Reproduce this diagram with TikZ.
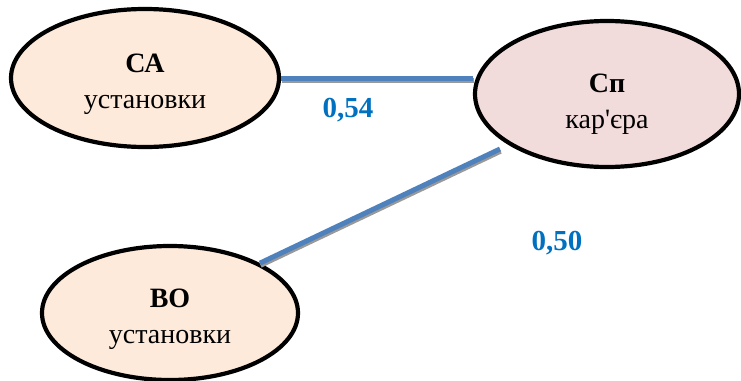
\documentclass[tikz,border=0pt]{standalone}
\usepackage{fontspec}
\setmainfont{Liberation Serif}
\newfontfamily\plainserif{Liberation Serif}
\usetikzlibrary{shapes.geometric, positioning}
\definecolor{peach}{HTML}{FDEADA}
\definecolor{rose}{HTML}{F2DCDB}
\definecolor{linkblue}{HTML}{4F81BD}
\definecolor{valblue}{HTML}{0070C0}

\begin{document}
\begin{tikzpicture}[x=1pt, y=-1pt,
    factor/.style={ellipse, draw, line width=4.2pt, fill=peach, align=center,
        minimum width=268pt, minimum height=138pt, inner sep=0pt,
        font=\fontsize{28}{36}\selectfont},
    link/.style={linkblue, line width=5pt,
        preaction={draw=gray!80, line width=5pt, transform canvas={xshift=0.6pt, yshift=-2.2pt}}},
    value/.style={text=valblue, font=\fontsize{29}{34}\selectfont\bfseries}]
    \useasboundingbox (0,0) rectangle (741,380);
    % factors
    \node[factor] (ca) at (145,78) {\rule{0pt}{32pt}\textbf{СА}\\установки};
    \node[factor, fill=rose, minimum width=264pt, minimum height=146pt] (sp) at (607,94) {\rule{0pt}{38pt}\textbf{Сп}\\кар{\plainserif'}єра};
    \node[factor, minimum width=256pt, minimum height=134pt] (bo) at (170,313) {\rule{0pt}{32pt}\textbf{ВО}\\установки};
    \coordinate (spend) at (500,149);

    \draw[link] (ca.east) -- (ca.east -| sp.west);
    \draw[link] (bo.29) -- (spend);

    \node[value] (r1) at (348,110) {0,54};
    \node[value] (r2) at (557,243) {0,50};
\end{tikzpicture}
\end{document}
